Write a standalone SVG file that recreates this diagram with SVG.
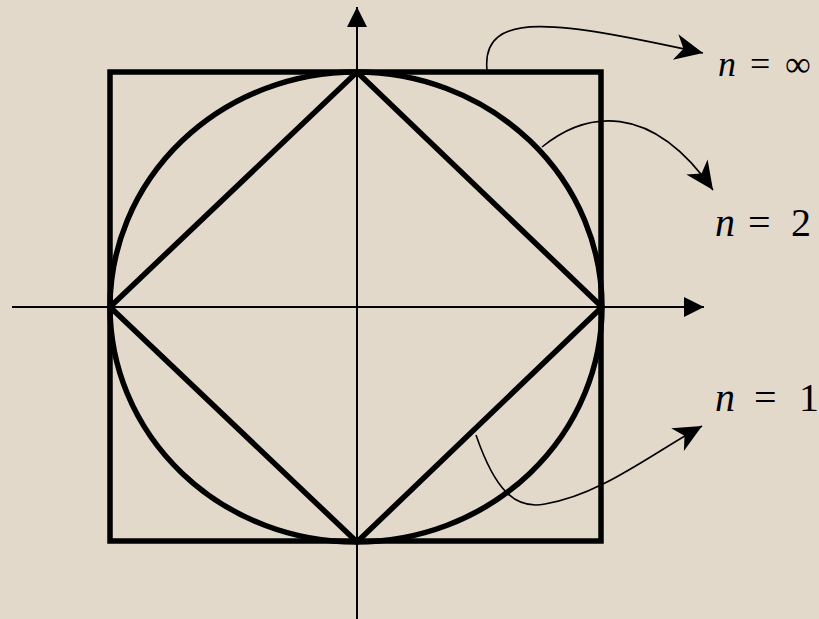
<svg xmlns="http://www.w3.org/2000/svg" width="819" height="619" viewBox="0 0 819 619">
<style>
.thick{fill:none;stroke:#000;stroke-width:5.5;stroke-linejoin:miter}
.axis{fill:none;stroke:#000;stroke-width:2}
.conn{fill:none;stroke:#000;stroke-width:1.6}
.lbl{font-family:"Liberation Serif","DejaVu Serif","Times New Roman",serif;fill:#000}
</style>
<defs>
<marker id="ax" markerUnits="userSpaceOnUse" markerWidth="24" markerHeight="24" viewBox="-22 -12 24 24" refX="0" refY="0" orient="auto">
<path d="M0,0 L-20,-10 L-20,10 z" fill="#000"/>
</marker>
<marker id="st" markerUnits="userSpaceOnUse" markerWidth="32" markerHeight="32" viewBox="-30 -16 32 32" refX="0" refY="0" orient="auto">
<path d="M0,0 L-28,-13 L-20,0 L-28,13 z" fill="#000"/>
</marker>
</defs>
<rect width="819" height="619" fill="#e2d9ca"/>
<g id="axes">
<line class="axis" x1="12" y1="307" x2="704" y2="307" marker-end="url(#ax)"/>
<line class="axis" x1="357" y1="619" x2="357" y2="7" marker-end="url(#ax)"/>
</g>
<g id="square"><rect class="thick" x="110" y="72" width="491" height="469"/></g>
<g id="circle"><ellipse class="thick" cx="356" cy="307" rx="246" ry="235"/></g>
<g id="diamond"><polygon class="thick" points="357,72 602,307 357,542 110,307"/></g>
<g id="connectors">
<path class="conn" d="M487,70 C481,8 560,22 703,53" marker-end="url(#st)"/>
<path class="conn" d="M542,147 C585,112 650,100 713,190" marker-end="url(#st)"/>
<path class="conn" d="M476,435 C495,490 515,510 545,504 C600,495 650,455 702,426" marker-end="url(#st)"/>
</g>
<g id="label-inf" class="lbl" font-size="36"><text x="718" y="76" font-style="italic">n</text><text x="750" y="76">=</text><text x="785" y="76">∞</text></g>
<g id="label-2" class="lbl" font-size="40"><text x="715" y="236" font-style="italic">n</text><text x="748" y="236">=</text><text x="791" y="236">2</text></g>
<g id="label-1" class="lbl" font-size="40"><text x="715" y="411" font-style="italic">n</text><text x="754" y="411">=</text><text x="799" y="411">1</text></g>
</svg>
